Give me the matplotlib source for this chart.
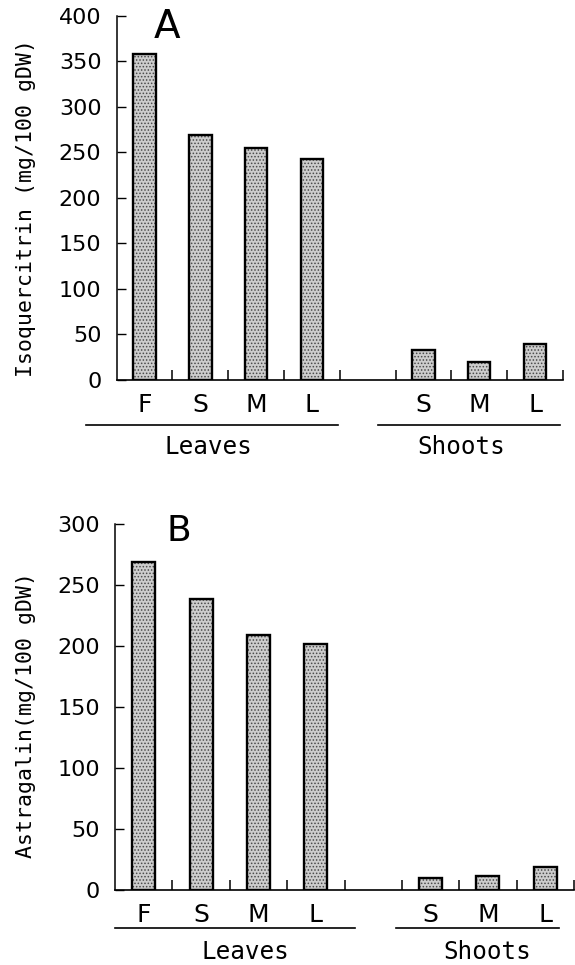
import numpy as np
import matplotlib
matplotlib.use('Agg')
import matplotlib.pyplot as plt
from matplotlib.lines import Line2D

# ---- Data (mg/100 gDW) ----
leaf_stages = ['F', 'S', 'M', 'L']
shoot_stages = ['S', 'M', 'L']
iso_leaves = [358, 269, 255, 243]
iso_shoots = [33, 20, 39]
ast_leaves = [269, 239, 209, 202]
ast_shoots = [10, 11.5, 19]

leaf_pos = [0, 1, 2, 3]
shoot_pos = [5, 6, 7]
tick_labels = leaf_stages + [''] + shoot_stages

W, H = 575, 965
plt.rcParams['hatch.linewidth'] = 0.7

def fx(px):
    return px / W

def fy(py):
    return 1 - py / H

fig = plt.figure(figsize=(W / 100, H / 100), dpi=100, facecolor='white')

def panel(rect, leaves, shoots, ymax, ylabel, letter, letter_xy, letter_size,
          label_y, lines_y, leaves_line, shoots_line, leaves_txt, shoots_txt):
    l, r, t, b = rect
    ax = fig.add_axes([fx(l), fy(b), fx(r) - fx(l), fy(t) - fy(b)])
    for pos, vals in ((leaf_pos, leaves), (shoot_pos, shoots)):
        ax.bar(pos, vals, width=0.4, color='#cdcdcd', edgecolor='#4a4a4a',
               hatch='.....', linewidth=0, zorder=2)
        ax.bar(pos, vals, width=0.4, fill=False, edgecolor='black',
               linewidth=1.7, zorder=3)
    ax.set_xlim(-0.5, 7.5)
    ax.set_ylim(0, ymax)
    for s in ('top', 'right'):
        ax.spines[s].set_visible(False)
    ax.spines['left'].set_linewidth(1.1)
    ax.spines['bottom'].set_linewidth(1.2)
    ax.set_yticks(np.arange(0, ymax + 1, 50))
    ax.tick_params(axis='y', direction='in', length=6.5, width=1.0,
                   labelsize=16, pad=11)
    ax.set_xticks(range(8))
    ax.set_xticklabels(tick_labels)
    ax.set_xticks(np.arange(0.5, 8, 1), minor=True)
    ax.tick_params(axis='x', which='major', length=0, labelsize=18, pad=9)
    ax.tick_params(axis='x', which='minor', direction='in', length=7.2, width=1.1)
    for lab in ax.get_yticklabels() + ax.get_xticklabels():
        lab.set_family('DejaVu Sans')

    fig.text(fx(26), fy(label_y), ylabel, rotation=90, ha='center', va='center',
             family='DejaVu Sans Mono', fontsize=15.5)
    fig.text(fx(letter_xy[0]), fy(letter_xy[1]), letter, ha='center', va='center',
             family='DejaVu Sans', fontsize=letter_size)

    for x0, x1 in (leaves_line, shoots_line):
        fig.add_artist(Line2D([fx(x0), fx(x1)], [fy(lines_y), fy(lines_y)],
                              transform=fig.transFigure, color='black', lw=1.2))
    for (x, y), txt in ((leaves_txt, 'Leaves'), (shoots_txt, 'Shoots')):
        fig.text(fx(x), fy(y), txt, ha='center', va='center',
                 family='DejaVu Sans Mono', fontsize=17.5)
    return ax

# --- Panel A: isoquercitrin ---
panel((116.7, 563, 15.7, 380), iso_leaves, iso_shoots, 400,
      'Isoquercitrin (mg/100 gDW)', 'A', (167, 27), 28,
      label_y=208, lines_y=425, leaves_line=(86, 338), shoots_line=(378, 560),
      leaves_txt=(208, 447), shoots_txt=(461, 447))

# --- Panel B: astragalin ---
panel((115, 574, 524.3, 890), ast_leaves, ast_shoots, 300,
      'Astragalin(mg/100 gDW)', 'B', (179, 531), 26,
      label_y=715, lines_y=928, leaves_line=(115, 355), shoots_line=(396, 559),
      leaves_txt=(245, 952), shoots_txt=(487, 952))

fig.savefig('out.png', dpi=100, facecolor='white')
